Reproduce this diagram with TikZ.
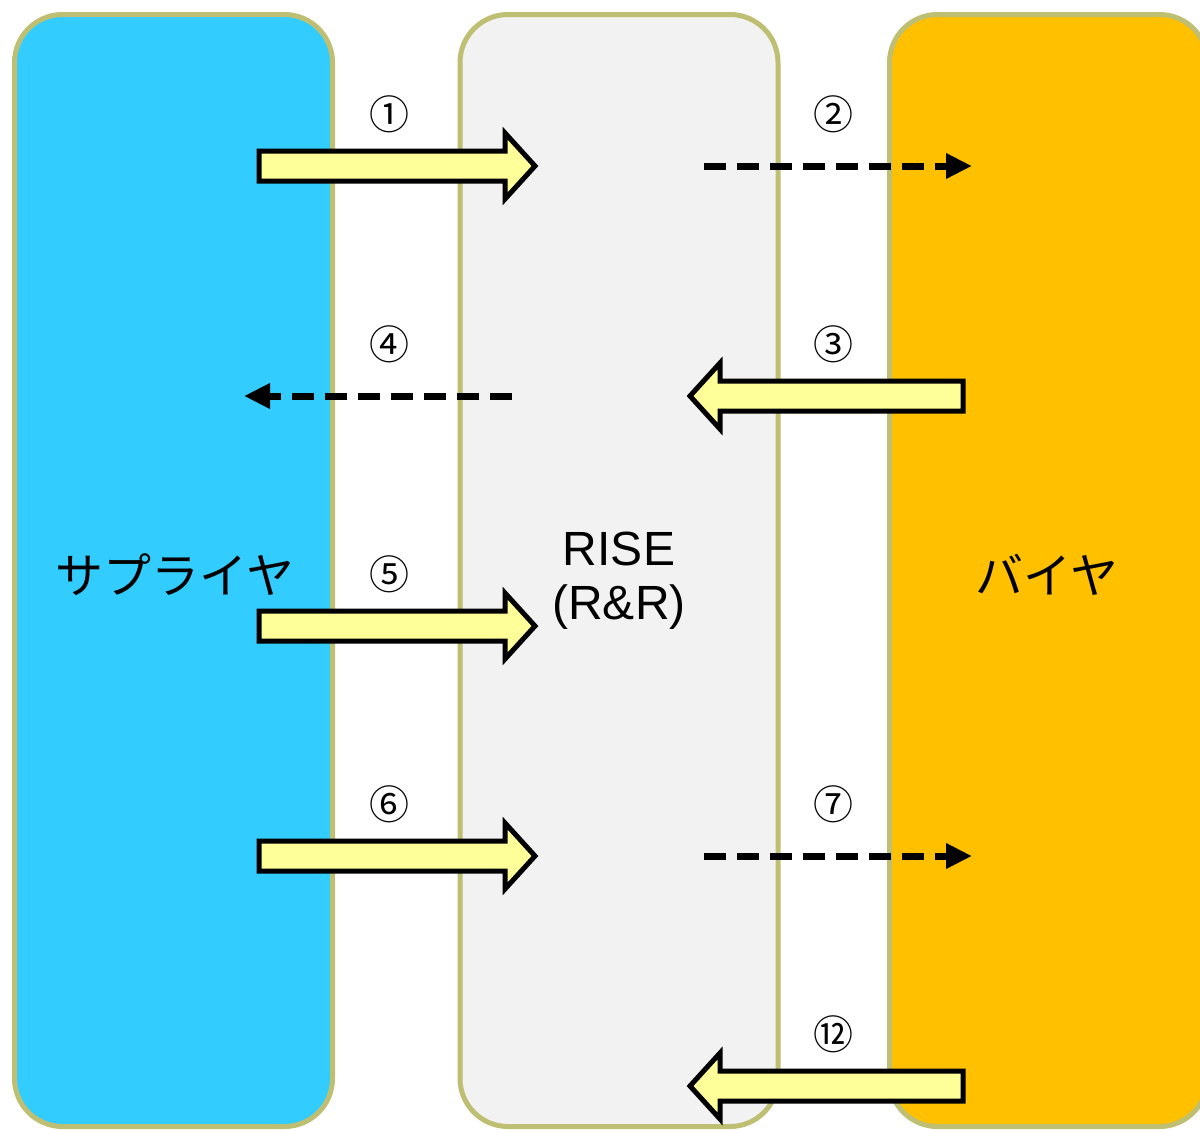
\documentclass[tikz,border=0pt]{standalone}
\usepackage{fontspec}
\setmainfont{Liberation Sans}
\newfontfamily\jpfont{Noto Sans CJK JP}
\usetikzlibrary{arrows.meta,calc}
\usepackage{xcolor}

\definecolor{laneedge}{RGB}{191,191,115}
\definecolor{supblue}{RGB}{51,204,255}
\definecolor{risegrey}{RGB}{242,242,242}
\definecolor{buyorange}{RGB}{255,192,0}
\definecolor{arrowyellow}{RGB}{255,255,153}

% fat block arrow from #1 to #2
\newcommand{\fatarrow}[2]{%
    \draw[fatline]
        ($(#1)!15pt!90:(#2)$)
        -- ($(#2)!30pt!(#1)!15pt!90:(#2)$)
        -- ($(#2)!30pt!(#1)!33pt!90:(#2)$)
        -- (#2)
        -- ($(#2)!30pt!(#1)!33pt!-90:(#2)$)
        -- ($(#2)!30pt!(#1)!15pt!-90:(#2)$)
        -- ($(#1)!15pt!-90:(#2)$)
        -- cycle;
}

\begin{document}
\begin{tikzpicture}[x=1pt, y=-1pt,
    lane/.style={
        rectangle,
        rounded corners=48pt,
        draw=laneedge,
        line width=5pt,
        minimum width=318pt,
        minimum height=1112pt,
        inner sep=0pt
    },
    lanetext/.style={
        draw=none,
        fill=none,
        inner sep=0pt
    },
    fatline/.style={
        draw=black,
        line width=5pt,
        fill=arrowyellow
    },
    dashline/.style={
        line width=7pt,
        dash pattern=on 22pt off 11pt,
        -{Triangle[length=26pt,width=24pt]}
    },
    stepno/.style={
        font=\jpfont\fontsize{40}{40}\selectfont
    }
]
    \useasboundingbox (0,0) rectangle (1200,1130);

    % lanes
    \node (supplier) [lane, fill=supblue] at (173.5,570.5) {};
    \node (rise) [lane, fill=risegrey] at (619,570.5) {};
    \node (buyer) [lane, fill=buyorange] at (1048.5,570.5) {};

    % lane names
    \node (supplier_name) [lanetext, font=\jpfont\fontsize{48}{48}\selectfont]
        at (175,575) {サプライヤ};
    \node (rise_name) [lanetext, align=center, font=\fontsize{48}{54}\selectfont]
        at (619,581) {RISE\\(R\&R)};
    \node (buyer_name) [lanetext, font=\jpfont\fontsize{48}{48}\selectfont]
        at (1047,575) {バイヤ};

    % arrow ends
    \coordinate (s1) at (259,166);
    \coordinate (e1) at (535,166);
    \coordinate (s2) at (704,166);
    \coordinate (e2) at (972,166);
    \coordinate (s3) at (963,396);
    \coordinate (e3) at (690,396);
    \coordinate (s4) at (512,396);
    \coordinate (e4) at (244,396);
    \coordinate (s5) at (259,626);
    \coordinate (e5) at (535,626);
    \coordinate (s6) at (259,856);
    \coordinate (e6) at (535,856);
    \coordinate (s7) at (704,856);
    \coordinate (e7) at (972,856);
    \coordinate (s12) at (963,1086);
    \coordinate (e12) at (690,1086);

    \fatarrow{s1}{e1}
    \draw[dashline] (s2) -- (e2);
    \fatarrow{s3}{e3}
    \draw[dashline] (s4) -- (e4);
    \fatarrow{s5}{e5}
    \fatarrow{s6}{e6}
    \draw[dashline] (s7) -- (e7);
    \fatarrow{s12}{e12}

    % step numbers
    \node (no1) [stepno] at (389,114) {①};
    \node (no2) [stepno] at (833,114) {②};
    \node (no3) [stepno] at (833,344) {③};
    \node (no4) [stepno] at (389,344) {④};
    \node (no5) [stepno] at (389,574) {⑤};
    \node (no6) [stepno] at (389,804) {⑥};
    \node (no7) [stepno] at (833,804) {⑦};
    \node (no12) [stepno] at (833,1034) {⑫};
\end{tikzpicture}
\end{document}
